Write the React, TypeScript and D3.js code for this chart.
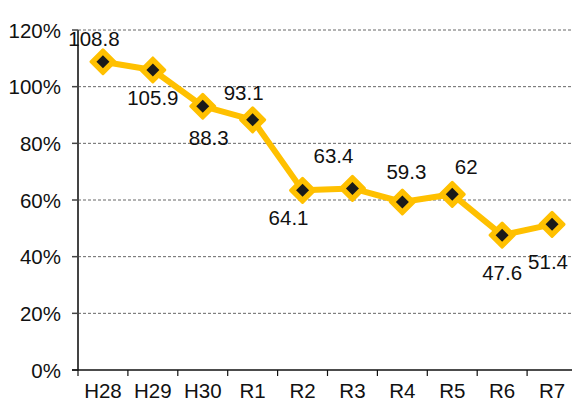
import { useEffect } from "react"
import * as d3 from "d3"

const categories = ["H28", "H29", "H30", "R1", "R2", "R3", "R4", "R5", "R6", "R7"]
const values = [108.8, 105.9, 93.1, 88.3, 63.4, 64.1, 59.3, 62, 47.6, 51.4]
const labels = ["108.8", "105.9", "88.3", "93.1", "64.1", "63.4", "59.3", "62", "47.6", "51.4"]
const yTicks = [0, 20, 40, 60, 80, 100, 120]

// label placement relative to the point (layout only)
const labelOffsets: [number, number][] = [
  [-9, -16], [0, 35], [6, 39], [-9, -20], [-14, 35],
  [-19, -25], [4, -23], [14, -20], [0, 45], [-4, 45],
]

const W = 572
const H = 401
const margin = { top: 30, right: -5, bottom: 31, left: 78 }
const font = "'Liberation Sans', Arial, sans-serif"
const fs = 20.5

export default function App() {
  useEffect(() => {
    document.body.style.margin = "0"
  }, [])

  const x = d3
    .scaleBand()
    .domain(categories)
    .range([margin.left, W - margin.right])

  const y = d3
    .scaleLinear()
    .domain([0, 120])
    .range([H - margin.bottom, margin.top])

  const cx = (c: string) => x(c)! + x.bandwidth() / 2
  const line = d3
    .line<number>()
    .x((d, i) => cx(categories[i]))
    .y(d => y(d))

  const diamond = (r: number) => `M0,${-r}L${r},0L0,${r}L${-r},0Z`
  const y0 = y(0)

  return (
    <svg width={W} height={H} style={{ display: "block", background: "#fff" }} fontFamily={font}>
      {/* grid */}
      {yTicks.slice(1).map(t => (
        <line key={t} x1={margin.left} x2={W} y1={y(t)} y2={y(t)}
          stroke="#666" strokeWidth={1} strokeDasharray="3,2" />
      ))}
      {/* y axis */}
      <line x1={margin.left} x2={margin.left} y1={margin.top} y2={y0} stroke="#444" strokeWidth={2} />
      {yTicks.map(t => (
        <g key={t}>
          <line x1={margin.left - 6} x2={margin.left} y1={y(t)} y2={y(t)} stroke="#444" strokeWidth={1.5} />
          <text x={61} y={y(t) + 7.5} textAnchor="end" fontSize={fs} fill="#111">{t}%</text>
        </g>
      ))}
      {/* x axis */}
      <line x1={margin.left - 6} x2={W} y1={y0} y2={y0} stroke="#111" strokeWidth={1.5} />
      {categories.map(c => (
        <g key={c}>
          <line x1={x(c)!} x2={x(c)!} y1={y0} y2={y0 + 6} stroke="#111" strokeWidth={1.2} />
          <text x={cx(c)} y={H - 3} textAnchor="middle" fontSize={fs} fill="#111">{c}</text>
        </g>
      ))}
      {/* line */}
      <path d={line(values)!} fill="none" stroke="#FFC000" strokeWidth={6} strokeLinejoin="round" />
      {values.map((v, i) => (
        <g key={i} transform={`translate(${cx(categories[i])},${y(v)})`}>
          <path d={diamond(12)} fill="#FFC000" stroke="#FFC000" strokeWidth={3} strokeLinejoin="round" />
          <path d={diamond(6.5)} fill="#1a1a1a" />
        </g>
      ))}
      {/* labels */}
      {values.map((v, i) => (
        <text key={i} x={cx(categories[i]) + labelOffsets[i][0]} y={y(v) + labelOffsets[i][1]}
          textAnchor="middle" fontSize={fs} fill="#111">{labels[i]}</text>
      ))}
    </svg>
  )
}
